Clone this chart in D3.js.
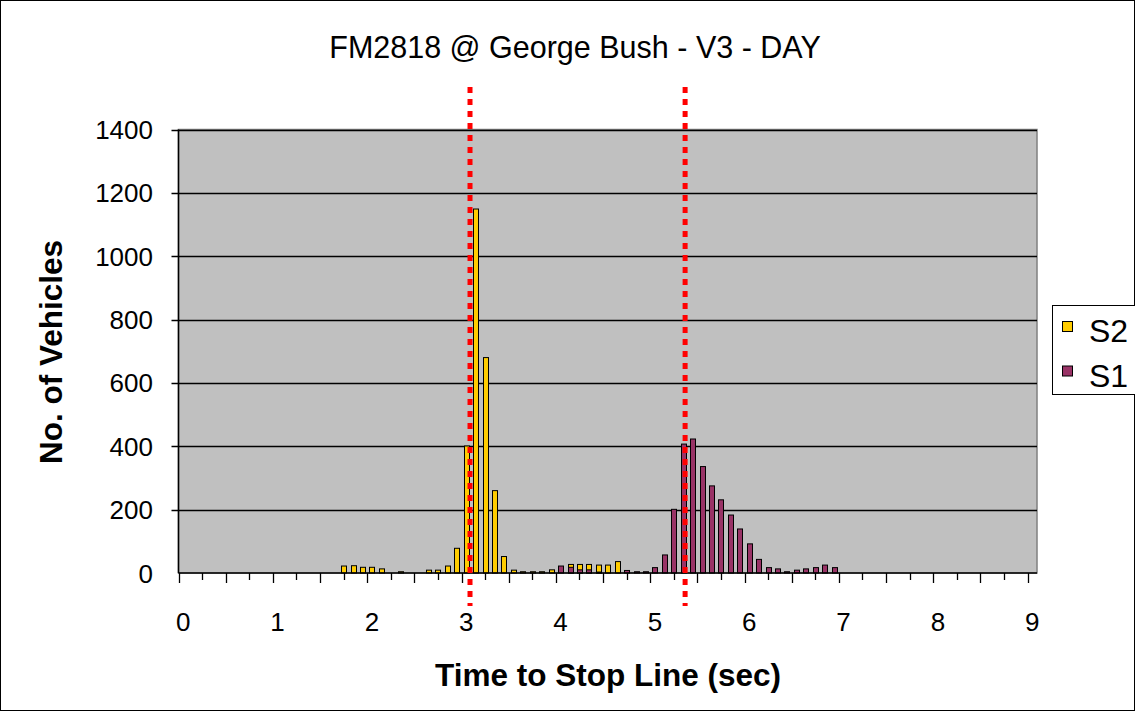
<!DOCTYPE html>
<html>
<head>
<meta charset="utf-8">
<script src="https://cdn.jsdelivr.net/npm/d3@7"></script>
<style>
  body { margin: 0; background: #fff; }
  svg { display: block; font-family: "Liberation Sans", Arial, sans-serif; }
</style>
</head>
<body>
<svg id="chart" width="1135" height="711"></svg>
<script>
// time bins 0.0 .. 9.0 sec, step 0.1
const timeBins = d3.range(91).map(i => (i / 10).toFixed(1));
const xTickLabels = ["0", "1", "2", "3", "4", "5", "6", "7", "8", "9"];
const yTicks = [0, 200, 400, 600, 800, 1000, 1200, 1400];

// S2 counts per bin (0.0 .. 9.0)
const s2Counts = [
  0, 0, 0, 0, 0, 0, 0, 0, 0, 0,
  0, 0, 0, 0, 0, 0, 0, 22, 23, 18,
  18, 13, 0, 4, 0, 0, 9, 9, 22, 78,
  401, 1149, 680, 260, 52, 9, 4, 4, 4, 10,
  0, 27, 27, 27, 25, 25, 36, 0, 0, 0,
  0, 0, 0, 0, 0, 0, 0, 0, 0, 0,
  0, 0, 0, 0, 0, 0, 0, 0, 0, 0,
  0, 0, 0, 0, 0, 0, 0, 0, 0, 0,
  0, 0, 0, 0, 0, 0, 0, 0, 0, 0,
  0
];
// S1 counts per bin (0.0 .. 9.0)
const s1Counts = [
  0, 0, 0, 0, 0, 0, 0, 0, 0, 0,
  0, 0, 0, 0, 0, 0, 0, 0, 0, 0,
  0, 0, 0, 0, 0, 0, 0, 0, 0, 0,
  0, 0, 0, 0, 0, 0, 0, 0, 0, 0,
  22, 18, 10, 10, 3, 0, 0, 8, 4, 4,
  17, 57, 201, 407, 423, 336, 275, 231, 183, 139,
  92, 43, 17, 13, 4, 9, 13, 17, 25, 17,
  0, 0, 0, 0, 0, 0, 0, 0, 0, 0,
  0, 0, 0, 0, 0, 0, 0, 0, 0, 0,
  0
];
const seriesNames = ["S2", "S1"];
const seriesColors = ["#FFCC00", "#993366"];
// red dotted reference lines (sec)
const refLines = [3.04, 5.32];

const svg = d3.select("#chart");
const margin = {left: 178.5, top: 129.5, right: 1037, bottom: 573};

// outer frame
svg.append("rect")
  .attr("x", 0.5).attr("y", 0.5).attr("width", 1134).attr("height", 710)
  .attr("fill", "#fff").attr("stroke", "#000");

const x = d3.scaleBand().domain(timeBins).range([margin.left, margin.right]).padding(0);
const y = d3.scaleLinear().domain([0, 1400]).range([margin.bottom, margin.top]);
const bw = x.bandwidth();
const xv = d3.scaleLinear().domain([0, 9])
  .range([x("0.0") + bw / 2, x("9.0") + bw / 2]);

// plot area
svg.append("rect")
  .attr("x", margin.left).attr("y", margin.top)
  .attr("width", margin.right - margin.left).attr("height", margin.bottom - margin.top)
  .attr("fill", "#C0C0C0").attr("stroke", "#808080").attr("stroke-width", 1.5);

// gridlines + y ticks
svg.append("g").selectAll("line").data(yTicks.slice(1)).join("line")
  .attr("x1", margin.left - 7).attr("x2", margin.right)
  .attr("y1", d => Math.round(y(d)) + 0.5).attr("y2", d => Math.round(y(d)) + 0.5)
  .attr("stroke", "#000").attr("stroke-width", 1.5);

svg.append("g").selectAll("text").data(yTicks).join("text")
  .attr("x", 153).attr("y", d => y(d) + 9.5)
  .attr("text-anchor", "end").attr("font-size", 26)
  .text(d => d);

// bars, S1 drawn over S2
const barW = 5;
[s2Counts, s1Counts].forEach((vals, si) => {
  svg.append("g").selectAll("rect")
    .data(vals.map((v, i) => ({t: timeBins[i], v})).filter(d => d.v > 0))
    .join("rect")
    .attr("x", d => Math.round(x(d.t) + bw / 2 - barW / 2) + 0.5)
    .attr("y", d => y(d.v))
    .attr("width", barW)
    .attr("height", d => margin.bottom - y(d.v))
    .attr("fill", seriesColors[si])
    .attr("stroke", "#000").attr("stroke-width", 1);
});

// axes lines
svg.append("line").attr("x1", margin.left).attr("x2", margin.left)
  .attr("y1", margin.top).attr("y2", margin.bottom)
  .attr("stroke", "#000").attr("stroke-width", 1.5);

// x ticks: long every 5 bins, short halfway
const tickPos = d3.range(0, 91, 2.5).map(k => ({k, px: margin.left + k * bw}));
svg.append("g").selectAll("line").data(tickPos).join("line")
  .attr("x1", d => Math.round(d.px) + 0.5).attr("x2", d => Math.round(d.px) + 0.5)
  .attr("y1", margin.bottom).attr("y2", d => margin.bottom + (d.k % 5 === 0 ? 10 : 7))
  .attr("stroke", "#000").attr("stroke-width", 1.3);

svg.append("line").attr("x1", margin.left).attr("x2", margin.right)
  .attr("y1", margin.bottom).attr("y2", margin.bottom)
  .attr("stroke", "#000").attr("stroke-width", 1.5);

svg.append("g").selectAll("text").data(xTickLabels).join("text")
  .attr("x", d => x((+d).toFixed(1)) + bw / 2)
  .attr("y", 631)
  .attr("text-anchor", "middle").attr("font-size", 26)
  .text(d => d);

// red dotted lines
svg.append("g").selectAll("line").data(refLines).join("line")
  .attr("x1", d => xv(d)).attr("x2", d => xv(d))
  .attr("y1", 87).attr("y2", 606)
  .attr("stroke", "#FF0000").attr("stroke-width", 5)
  .attr("stroke-dasharray", "6,6");

// title & axis titles
svg.append("text").attr("x", 575).attr("y", 58)
  .attr("text-anchor", "middle").attr("font-size", 30.5)
  .text("FM2818 @ George Bush - V3 - DAY");

svg.append("text").attr("x", 608).attr("y", 686)
  .attr("text-anchor", "middle").attr("font-size", 31.5).attr("font-weight", "bold")
  .text("Time to Stop Line (sec)");

svg.append("text")
  .attr("transform", "translate(62,352) rotate(-90)")
  .attr("text-anchor", "middle").attr("font-size", 31.5).attr("font-weight", "bold")
  .text("No. of Vehicles");

// legend
const lg = svg.append("g");
lg.append("rect").attr("x", 1052.5).attr("y", 305.5).attr("width", 90).attr("height", 89)
  .attr("fill", "#fff").attr("stroke", "#000");
seriesNames.forEach((name, i) => {
  const yy = 321 + i * 44.5;
  lg.append("rect").attr("x", 1062.5).attr("y", yy + 0.5).attr("width", 10).attr("height", 10)
    .attr("fill", seriesColors[i]).attr("stroke", "#000");
  lg.append("text").attr("x", 1089).attr("y", yy + 21)
    .attr("font-size", 32).text(name);
});
</script>
</body>
</html>
